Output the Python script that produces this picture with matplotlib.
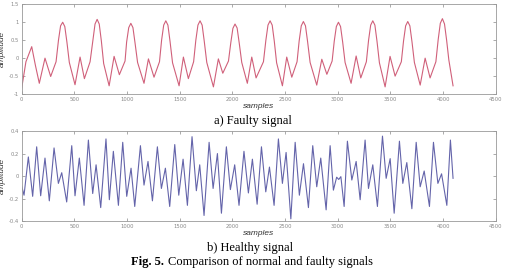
import matplotlib
matplotlib.use('Agg')
import matplotlib.pyplot as plt
import numpy as np

# faulty signal: samples / amplitude
faulty_x = [0, 40, 95, 130, 167, 221, 275, 326,
            349, 369, 389, 409, 429, 452, 506, 554, 595, 649,
            676, 696, 716, 736, 756, 778, 830, 877, 927, 981,
            996, 1016, 1036, 1056, 1076, 1100, 1161, 1203, 1256, 1308,
            1328, 1348, 1368, 1388, 1408, 1432, 1494, 1535, 1582, 1632,
            1653, 1673, 1693, 1713, 1733, 1757, 1820, 1867, 1909, 1963,
            1985, 2005, 2025, 2045, 2065, 2089, 2142, 2184, 2225, 2295,
            2318, 2338, 2358, 2378, 2398, 2420, 2475, 2516, 2564, 2614,
            2634, 2654, 2674, 2694, 2714, 2738, 2801, 2849, 2897, 2947,
            2967, 2987, 3007, 3027, 3047, 3070, 3127, 3175, 3219, 3272,
            3293, 3313, 3333, 3353, 3373, 3396, 3450, 3497, 3545, 3604,
            3625, 3645, 3665, 3685, 3705, 3728, 3783, 3830, 3877, 3932,
            3954, 3974, 3994, 4014, 4034, 4055, 4095]
faulty_y = [-0.83, -0.1, 0.32, -0.2, -0.70, 0.0, -0.51, -0.10,
            0.5, 0.9, 1.00, 0.88, 0.45, -0.12, -0.74, 0.03, -0.57, -0.10,
            0.5, 0.95, 1.08, 0.95, 0.48, -0.15, -0.77, 0.05, -0.46, -0.08,
            0.45, 0.85, 0.97, 0.85, 0.42, -0.12, -0.70, -0.02, -0.53, -0.10,
            0.5, 0.92, 1.04, 0.92, 0.47, -0.13, -0.77, 0.03, -0.57, -0.10,
            0.5, 0.92, 1.04, 0.92, 0.47, -0.12, -0.80, -0.02, -0.42, -0.08,
            0.43, 0.83, 0.95, 0.84, 0.42, -0.12, -0.70, 0.03, -0.55, -0.10,
            0.5, 0.92, 1.04, 0.92, 0.47, -0.13, -0.77, 0.03, -0.53, -0.10,
            0.48, 0.9, 1.02, 0.9, 0.46, -0.12, -0.75, -0.03, -0.45, -0.08,
            0.47, 0.88, 1.00, 0.88, 0.45, -0.12, -0.70, 0.06, -0.55, -0.10,
            0.5, 0.92, 1.04, 0.92, 0.47, -0.13, -0.80, 0.05, -0.50, -0.10,
            0.48, 0.9, 1.02, 0.9, 0.46, -0.12, -0.75, 0.0, -0.55, -0.10,
            0.52, 0.97, 1.10, 0.95, 0.5, -0.05, -0.77]

# healthy signal
healthy_x = [0, 22, 63, 104, 142, 180, 221, 262, 307, 348, 380, 427, 475, 506,
             547, 592, 633, 674, 706, 750, 800, 832, 870, 918, 959, 997, 1038,
             1073, 1127, 1161, 1199, 1241, 1288, 1326, 1364, 1405, 1453, 1491,
             1532, 1573, 1617, 1658, 1690, 1731, 1779, 1817, 1858, 1896, 1943,
             1981, 2022, 2063, 2110, 2152, 2190, 2235, 2276, 2317, 2352, 2396,
             2437, 2475, 2510, 2555, 2596, 2636, 2675, 2722, 2763, 2801, 2839,
             2890, 2928, 2959, 2990, 3010, 3030, 3061, 3092, 3134, 3175, 3213,
             3260, 3292, 3333, 3377, 3425, 3460, 3498, 3536, 3586, 3618, 3656,
             3704, 3745, 3783, 3821, 3871, 3909, 3951, 3986, 4036, 4070, 4095]
healthy_y = [-0.09, -0.17, 0.17, -0.18, 0.26, -0.175, 0.16, -0.22, 0.25, -0.065,
             0.03, -0.23, 0.27, -0.175, 0.16, -0.26, 0.32, -0.155, 0.10, -0.28,
             0.33, -0.21, 0.22, -0.26, 0.30, -0.18, 0.07, -0.27, 0.27, -0.08,
             0.13, -0.22, 0.26, -0.11, 0.07, -0.27, 0.28, -0.17, 0.15, -0.26,
             0.35, -0.13, 0.10, -0.35, 0.30, -0.11, 0.20, -0.33, 0.26, -0.12,
             0.10, -0.26, 0.22, -0.15, 0.15, -0.25, 0.26, -0.14, 0.08, -0.26,
             0.33, -0.065, 0.21, -0.38, 0.30, -0.17, 0.11, -0.28, 0.27, -0.095,
             0.16, -0.30, 0.27, -0.125, -0.01, -0.03, -0.005, -0.27, 0.31, -0.035,
             0.13, -0.21, 0.32, -0.11, 0.10, -0.27, 0.355, -0.02, 0.155, -0.33,
             0.31, -0.065, 0.12, -0.29, 0.30, -0.095, 0.045, -0.27, 0.30, -0.065,
             0.02, -0.26, 0.32, -0.02]

x_ticks = [0, 500, 1000, 1500, 2000, 2500, 3000, 3500, 4000, 4500]
faulty_yticks = [-1, -0.5, 0, 0.5, 1, 1.5]
healthy_yticks = [-0.4, -0.2, 0, 0.2, 0.4]


def style_axes(ax, yticks, ylim):
    ax.set_xlim(0, 4500)
    ax.set_ylim(*ylim)
    ax.set_xticks(x_ticks)
    ax.set_yticks(yticks)
    ax.set_yticklabels([('%g' % v) for v in yticks])
    ax.tick_params(direction='in', length=2, width=0.5, colors='#888888',
                   labelsize=3.8, pad=2, top=True, right=True)
    for sp in ax.spines.values():
        sp.set_color('#999999')
        sp.set_linewidth(0.6)
    ax.set_xlabel('samples', fontsize=6, style='italic', color='#333333',
                  family='Liberation Sans', labelpad=1)
    ax.set_ylabel('amplitude', fontsize=6, style='italic', color='#333333',
                  family='Liberation Sans', labelpad=2)


fig = plt.figure(figsize=(5.05, 2.68), dpi=100)

ax1 = fig.add_axes([0.043, 0.649, 0.9386, 0.335])
ax1.plot(faulty_x, faulty_y, color='#d0607a', linewidth=0.8,
         solid_joinstyle='round')
style_axes(ax1, faulty_yticks, (-1, 1.5))

ax2 = fig.add_axes([0.043, 0.175, 0.9386, 0.336])
ax2.plot(healthy_x, healthy_y, color='#6464aa', linewidth=0.8,
         solid_joinstyle='round')
style_axes(ax2, healthy_yticks, (-0.4, 0.4))

fig.text(0.50, 0.549, 'a) Faulty signal', ha='center', va='center',
         fontsize=9, family='Liberation Serif')
fig.text(0.495, 0.076, 'b) Healthy signal', ha='center', va='center',
         fontsize=9, family='Liberation Serif')
fig.text(0.26, 0.021, 'Fig. 5.', ha='left', va='center', fontsize=9,
         family='Liberation Serif', weight='bold')
fig.text(0.333, 0.021, 'Comparison of normal and faulty signals', ha='left',
         va='center', fontsize=9, family='Liberation Serif')

plt.savefig('out.png', dpi=100)
